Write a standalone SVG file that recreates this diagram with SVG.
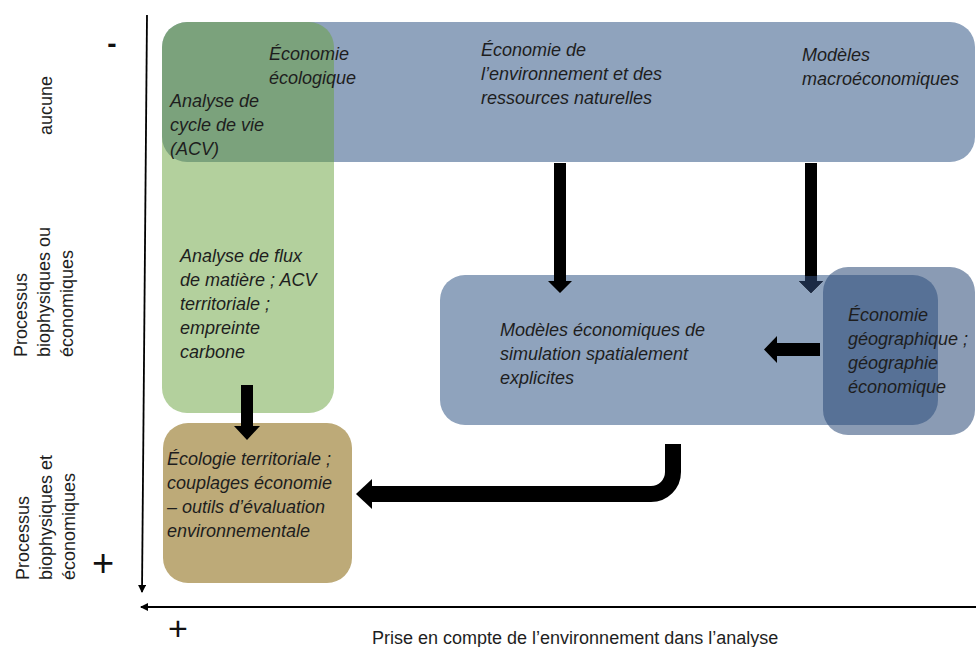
<svg xmlns="http://www.w3.org/2000/svg" width="976" height="647" viewBox="0 0 976 647">
<style>
.t{font-family:"Liberation Sans",Arial,sans-serif;font-style:italic;font-size:18px;fill:#1e1e1e}
.l{font-family:"Liberation Sans",Arial,sans-serif;font-size:18px;fill:#1e1e1e}
.s{font-family:"Liberation Sans",Arial,sans-serif;fill:#111}
.ar{fill:#000}
</style>
<defs>
<marker id="ah" viewBox="0 0 8 8" refX="7" refY="4" markerWidth="8" markerHeight="8" markerUnits="userSpaceOnUse" orient="auto">
<path d="M0,0 L8,4 L0,8 z" fill="#000"/>
</marker>
</defs>
<rect width="976" height="647" fill="#fff"/>

<g id="axes">
<line x1="147" y1="15" x2="142" y2="592" stroke="#000" stroke-width="1.8" marker-end="url(#ah)"/>
<line x1="976" y1="607" x2="141" y2="607" stroke="#000" stroke-width="1.8" marker-end="url(#ah)"/>
<text class="s" x="112" y="53" font-size="28" font-weight="bold" text-anchor="middle">-</text>
<text class="s" x="103" y="576" font-size="38" text-anchor="middle">+</text>
<text class="s" x="178" y="640" font-size="34" text-anchor="middle">+</text>
<text class="l" x="372" y="644">Prise en compte de l’environnement dans l’analyse</text>
<text class="l" transform="translate(52,135) rotate(-90)">aucune</text>
<g transform="translate(0,357) rotate(-90)">
<text class="l" x="0" y="27">Processus</text>
<text class="l" x="0" y="50">biophysiques ou</text>
<text class="l" x="0" y="73">économiques</text>
</g>
<g transform="translate(0,580) rotate(-90)">
<text class="l" x="0" y="29">Processus</text>
<text class="l" x="0" y="52">biophysiques et</text>
<text class="l" x="0" y="75">économiques</text>
</g>
</g>

<g id="top-box">
<rect x="162" y="22" width="813" height="140" rx="25" fill="#8fa3bd"/>
<text class="t" x="481" y="56">Économie de</text>
<text class="t" x="481" y="80">l’environnement et des</text>
<text class="t" x="481" y="104">ressources naturelles</text>
<text class="t" x="802" y="61">Modèles</text>
<text class="t" x="802" y="85">macroéconomiques</text>
</g>

<g id="green-box">
<rect x="162" y="22" width="172" height="391" rx="25" fill="#67a13b" fill-opacity="0.5"/>
<text class="t" x="269" y="60">Économie</text>
<text class="t" x="269" y="84">écologique</text>
<text class="t" x="170" y="107">Analyse de</text>
<text class="t" x="170" y="131">cycle de vie</text>
<text class="t" x="170" y="155">(ACV)</text>
<text class="t" x="180" y="262">Analyse de flux</text>
<text class="t" x="180" y="286">de matière ; ACV</text>
<text class="t" x="180" y="310">territoriale ;</text>
<text class="t" x="180" y="334">empreinte</text>
<text class="t" x="180" y="358">carbone</text>
</g>

<g id="brown-box">
<rect x="163" y="423" width="189" height="160" rx="25" fill="#bdaa78"/>
<text class="t" x="167" y="465">Écologie territoriale ;</text>
<text class="t" x="167" y="489">couplages économie</text>
<text class="t" x="167" y="513">– outils d’évaluation</text>
<text class="t" x="167" y="537">environnementale</text>
</g>

<g id="middle-box">
<rect x="440" y="275" width="498" height="150" rx="25" fill="#8fa3bd"/>
<text class="t" x="500" y="336">Modèles économiques de</text>
<text class="t" x="500" y="360">simulation spatialement</text>
<text class="t" x="500" y="384">explicites</text>
</g>

<g id="geo-box">
<rect x="823" y="267" width="152" height="168" rx="25" fill="#2a4976" fill-opacity="0.55"/>
<text class="t" x="848" y="321">Économie</text>
<text class="t" x="848" y="345">géographique ;</text>
<text class="t" x="848" y="369">géographie</text>
<text class="t" x="848" y="393">économique</text>
</g>

<g id="connectors">
<polygon class="ar" points="554,163 566,163 566,281 572,281 560,293 548,281 554,281"/>
<polygon class="ar" points="805,163 817,163 817,281 823,281 811,293 799,281 805,281"/>
<polygon points="805,276 817,276 817,281 823,281 811,293 799,281 805,281" fill="#1b2a44"/>
<polygon class="ar" points="820,343 820,356 777,356 777,363 764,349.5 777,336 777,343"/>
<polygon class="ar" points="241,385 253,385 253,426 260,426 247,440 234,426 241,426"/>
<path d="M673,444 V472 A22,22 0 0 1 651,494 H371" fill="none" stroke="#000" stroke-width="16"/>
<polygon class="ar" points="372,479 372,509 356,494"/>
</g>
</svg>
